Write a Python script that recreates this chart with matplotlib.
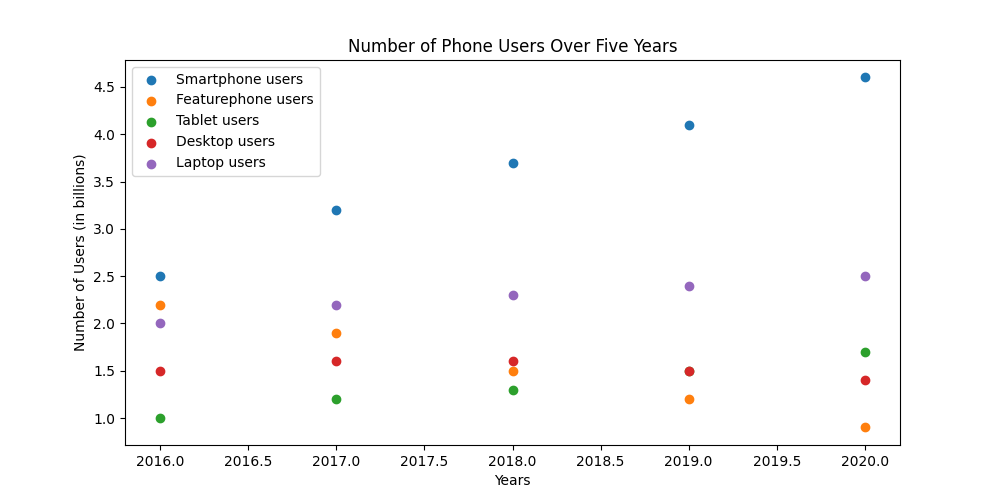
import matplotlib
matplotlib.use("Agg")
import matplotlib.pyplot as plt

years = [2016, 2017, 2018, 2019, 2020]
smartphone = [2.5, 3.2, 3.7, 4.1, 4.6]
featurephone = [2.2, 1.9, 1.5, 1.2, 0.9]
tablet = [1.0, 1.2, 1.3, 1.5, 1.7]
desktop = [1.5, 1.6, 1.6, 1.5, 1.4]
laptop = [2.0, 2.2, 2.3, 2.4, 2.5]

fig, ax = plt.subplots(figsize=(10, 5), dpi=100)
ax.scatter(years, smartphone, label="Smartphone users")
ax.scatter(years, featurephone, label="Featurephone users")
ax.scatter(years, tablet, label="Tablet users")
ax.scatter(years, desktop, label="Desktop users")
ax.scatter(years, laptop, label="Laptop users")
ax.set_title("Number of Phone Users Over Five Years")
ax.set_xlabel("Years")
ax.set_ylabel("Number of Users (in billions)")
ax.legend(loc="upper left")
fig.savefig("out.png")
